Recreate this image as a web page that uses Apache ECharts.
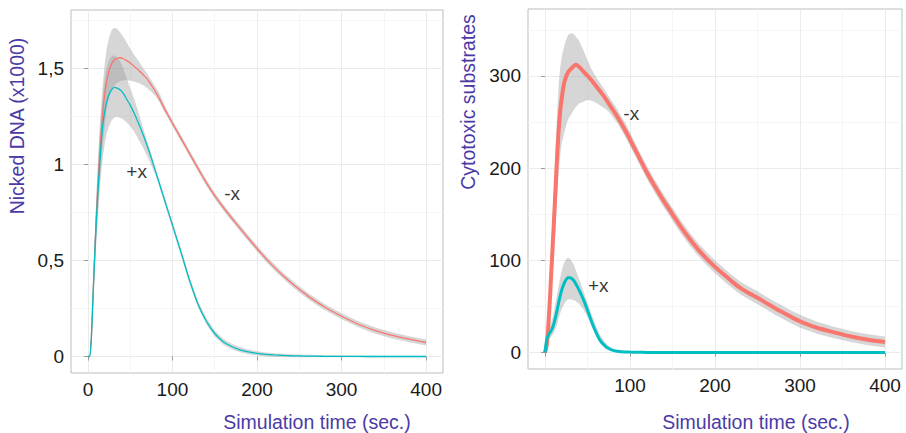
<!DOCTYPE html>
<html>
<head>
<meta charset="utf-8">
<script src="https://cdn.jsdelivr.net/npm/echarts@6/dist/echarts.min.js"></script>
<style>
  html, body { margin: 0; padding: 0; background: #fff; }
  #chart { width: 906px; height: 433px; }
</style>
</head>
<body>
<div id="chart"></div>
<script>
// ---- Nicked DNA panel (values in thousands) ----
const timeDNA = [0,2,4,6,8,10,12,14,16,18,20,22,25,28,31,34,38,42,46,50,55,60,65,70,75,80,85,90,95,100,
  110,120,130,140,150,160,170,180,190,200,210,220,230,240,250,260,270,280,290,300,320,340,360,380,400];

const dnaMinus = [0,0,0.09,0.31,0.53,0.73,0.90,1.05,1.18,1.29,1.37,1.43,1.49,1.525,1.545,1.553,1.557,1.552,1.542,1.53,
  1.512,1.492,1.47,1.447,1.415,1.38,1.34,1.297,1.256,1.216,
  1.138,1.06,0.982,0.906,0.838,0.778,0.722,0.668,0.615,0.563,0.513,0.467,0.425,0.386,0.35,0.316,0.286,0.258,0.233,0.21,
  0.168,0.135,0.11,0.09,0.073];
const dnaMinusHi = [0,0.004,0.11,0.36,0.61,0.84,1.04,1.2,1.33,1.44,1.53,1.6,1.66,1.70,1.713,1.71,1.69,1.665,1.635,1.605,
  1.57,1.54,1.505,1.475,1.44,1.405,1.37,1.317,1.272,1.232,
  1.154,1.076,0.998,0.922,0.854,0.794,0.738,0.684,0.631,0.579,0.529,0.483,0.441,0.402,0.366,0.332,0.302,0.274,0.249,0.226,
  0.184,0.151,0.126,0.106,0.089];
const dnaMinusLo = [0,0,0.07,0.26,0.45,0.62,0.77,0.90,1.02,1.12,1.21,1.28,1.35,1.39,1.41,1.425,1.435,1.44,1.44,1.438,
  1.432,1.425,1.415,1.40,1.38,1.355,1.322,1.277,1.24,1.2,
  1.122,1.044,0.966,0.89,0.822,0.762,0.706,0.652,0.599,0.547,0.497,0.451,0.409,0.37,0.334,0.3,0.27,0.242,0.217,0.194,
  0.152,0.119,0.094,0.074,0.057];

const dnaPlus = [0,0,0.09,0.31,0.52,0.71,0.87,1.01,1.13,1.22,1.28,1.325,1.365,1.39,1.403,1.40,1.39,1.37,1.34,1.31,
  1.265,1.215,1.16,1.10,1.035,0.965,0.895,0.825,0.755,0.685,
  0.545,0.40,0.275,0.185,0.12,0.077,0.052,0.035,0.024,0.016,0.011,0.008,0.006,0.004,0.003,0.002,0.0015,0.001,0.001,0.0005,
  0.0003,0,0,0,0];
const dnaPlusHi = [0,0.004,0.11,0.36,0.6,0.82,1.0,1.15,1.28,1.38,1.45,1.50,1.545,1.565,1.57,1.56,1.54,1.50,1.45,1.40,
  1.34,1.27,1.195,1.125,1.054,0.982,0.912,0.842,0.772,0.702,
  0.562,0.417,0.292,0.202,0.136,0.092,0.066,0.048,0.036,0.027,0.021,0.017,0.014,0.012,0.01,0.009,0.008,0.007,0.007,0.006,
  0.005,0.004,0.004,0.004,0.004];
const dnaPlusLo = [0,0,0.07,0.26,0.45,0.6,0.74,0.87,0.97,1.05,1.11,1.16,1.2,1.23,1.245,1.25,1.245,1.235,1.22,1.2,
  1.17,1.13,1.09,1.045,0.995,0.945,0.878,0.808,0.738,0.668,
  0.528,0.383,0.258,0.168,0.104,0.062,0.038,0.022,0.012,0.005,0.001,-0.002,-0.003,-0.004,-0.004,-0.004,-0.004,-0.004,-0.004,-0.004,
  -0.004,-0.004,-0.004,-0.004,-0.004];

// ---- Cytotoxic substrates panel ----
const timeSub = [0,2,4,6,8,10,12,14,16,18,20,22,24,26,28,30,33,36,40,45,50,55,60,65,70,75,80,85,90,95,100,
  110,120,130,140,150,160,170,180,190,200,210,220,230,240,250,260,270,280,290,300,320,340,360,380,400];

const subMinus = [0,8,30,62,98,133,170,208,240,263,278,290,297,302,305,307,310,312,310,305,300,295,289,283,277,270,263,256,248,240,231,
  213,195,179,164,150,136,123.5,112,102,93,85,77,70,64.5,59.5,54,48.5,43.5,38.5,34,27,22,17.5,14,11.5];
const subMinusHi = [0,12,40,80,125,170,210,255,290,310,322,330,337,342,345,346,346,343,338,328,317,307,299,292,285,278,271,264,256,248,239,
  220,202,186,171,157,143,130.5,119,109,100,92,84,77,71.5,66.5,61,55.5,50.5,45.5,41,33.5,28,23.5,20,17.5];
const subMinusLo = [0,4,20,45,72,100,130,165,195,215,228,236,243,250,254,257,262,266,270,272,274,273,271,268,265,261,255,249,241,233,224,
  206,188,172,157,143,129,116.5,105,95,86,78,70,63,57.5,52.5,47,41.5,36.5,31.5,27,20.5,15.5,11.5,8,5.5];

const subPlus = [0,14,19,22,25,30,37,45,54,62,69,74,78,80.5,81.5,81,79,75,68,58,46,33,22,13,8,4.5,2.5,1.5,1,0.8,0.6,
  0.4,0.3,0.2,0.2,0.1,0.1,0.1,0.1,0.1,0.1,0.1,0.1,0.1,0.1,0.1,0.1,0.1,0.1,0.1,0.1,0.1,0.1,0.1,0.1,0.1];
const subPlusHi = [0,18,24,29,35,42,52,62,72,82,90,96,100,102.5,103,101,97,90,80,67,54,41,29,19,12,7,4.5,3,2.2,1.8,1.5,
  1.2,1,1,1,1,1,1,1,1,1,1,1,1,1,1,1,1,1,1,1,1,1,1,1,1];
const subPlusLo = [0,10,14,16,18,21,25,30,37,43,48,52,55,57,58,58,57,56,53,47,39,29,19,10,5,2.5,1,0.3,0,0,0,
  0,0,0,0,0,0,0,0,0,0,0,0,0,0,0,0,0,0,0,0,0,0,0,0,0];

// ---- axis ticks and annotations ----
const dnaTicksX = [0, 100, 200, 300, 400];
const dnaMinorX = [50, 150, 250, 350];
const dnaTicksY = [0, 0.5, 1, 1.5];
const dnaMinorY = [0.25, 0.75, 1.25, 1.75];
const subTicksX = [0, 100, 200, 300, 400];
const subLabelsX = [100, 200, 300, 400];
const subMinorX = [50, 150, 250, 350];
const subTicksY = [0, 100, 200, 300];
const subMinorY = [50, 150, 250, 350];

const dnaNotes = [{ name: '+x', value: [57.6, 0.966] }, { name: '-x', value: [170.6, 0.847] }];
const subNotes = [{ name: '-x', value: [101.5, 259] }, { name: '+x', value: [62.7, 72.3] }];

// ---- styling ----
const FONT = '"Liberation Sans", Arial, Helvetica, sans-serif';
const TITLE_COLOR = '#4b3aa6';
const RED = '#F8766D';
const TEAL = '#00BFC4';
const BAND = 'rgba(153,153,153,0.4)';

const chart = echarts.init(document.getElementById('chart'), null, { renderer: 'svg' });

function pairs(ts, vs) { return ts.map((t, i) => [t, vs[i]]); }

// grey confidence band: polygon along the upper edge and back along the lower edge
function band(ts, hi, lo, axisIdx) {
  return {
    type: 'custom', xAxisIndex: axisIdx, yAxisIndex: axisIdx, silent: true, z: 1,
    data: [[ts[0], lo[0]]],
    renderItem: function (params, api) {
      const pts = [];
      for (let i = 0; i < ts.length; i++) pts.push(api.coord([ts[i], hi[i]]));
      for (let i = ts.length - 1; i >= 0; i--) pts.push(api.coord([ts[i], lo[i]]));
      return { type: 'polygon', shape: { points: pts }, style: { fill: BAND } };
    }
  };
}

function line(ts, vs, color, width, axisIdx) {
  return {
    type: 'line', xAxisIndex: axisIdx, yAxisIndex: axisIdx, data: pairs(ts, vs),
    showSymbol: false, symbol: 'none', smooth: 0.25, z: 3, silent: true,
    lineStyle: { color: color, width: width }
  };
}

function notes(items, axisIdx) {
  return {
    type: 'scatter', xAxisIndex: axisIdx, yAxisIndex: axisIdx, data: items, symbolSize: 1, z: 4, silent: true,
    itemStyle: { color: 'transparent' },
    label: { show: true, position: 'inside', formatter: '{b}', fontFamily: FONT, fontSize: 19, color: '#000' }
  };
}

function mainX(grid, min, max, ticks, labels) {
  return {
    type: 'value', gridIndex: grid, min: min, max: max, position: 'bottom',
    axisLine: { show: false },
    axisTick: { show: true, length: 4, customValues: ticks, lineStyle: { color: '#9a9a9a' } },
    axisLabel: { customValues: labels, margin: 7, fontFamily: FONT, fontSize: 19, color: '#1a1a1a' },
    splitLine: { show: true, lineStyle: { color: '#ebebeb', width: 1 } }
  };
}
function minorAxis(grid, min, max, vals, pos) {
  return {
    type: 'value', gridIndex: grid, min: min, max: max, position: pos,
    axisLine: { show: false },
    axisTick: { show: false, customValues: vals },
    axisLabel: { show: false, customValues: vals },
    splitLine: { show: true, lineStyle: { color: '#f5f5f5', width: 1 } }
  };
}
function mainY(grid, min, max, ticks, fmt) {
  return {
    type: 'value', gridIndex: grid, min: min, max: max, position: 'left',
    axisLine: { show: false },
    axisTick: { show: true, length: 4, customValues: ticks, lineStyle: { color: '#9a9a9a' } },
    axisLabel: { customValues: ticks, margin: 7, fontFamily: FONT, fontSize: 19, color: '#1a1a1a', formatter: fmt },
    splitLine: { show: true, lineStyle: { color: '#ebebeb', width: 1 } }
  };
}

const option = {
  animation: false,
  backgroundColor: '#fff',
  grid: [
    { left: 71, top: 10, width: 372, height: 363, show: true, borderColor: '#bdbdbd', borderWidth: 1, backgroundColor: '#fff' },
    { left: 528, top: 9, width: 374, height: 360, show: true, borderColor: '#bdbdbd', borderWidth: 1, backgroundColor: '#fff' }
  ],
  xAxis: [
    mainX(0, -20, 420, dnaTicksX, dnaTicksX),
    mainX(1, -20, 420, subTicksX, subLabelsX),
    minorAxis(0, -20, 420, dnaMinorX, 'top'),
    minorAxis(1, -20, 420, subMinorX, 'top')
  ],
  yAxis: [
    mainY(0, -0.086, 1.806, dnaTicksY, v => String(v).replace('.', ',')),
    mainY(1, -17.7, 372.5, subTicksY, v => String(v)),
    minorAxis(0, -0.086, 1.806, dnaMinorY, 'right'),
    minorAxis(1, -17.7, 372.5, subMinorY, 'right')
  ],
  graphic: [
    { type: 'text', x: 317, y: 422, style: { text: 'Simulation time (sec.)', textAlign: 'center', textVerticalAlign: 'middle', font: '19.5px ' + FONT, fill: TITLE_COLOR } },
    { type: 'text', x: 756, y: 422, style: { text: 'Simulation time (sec.)', textAlign: 'center', textVerticalAlign: 'middle', font: '19.5px ' + FONT, fill: TITLE_COLOR } },
    { type: 'text', x: 17, y: 126, rotation: Math.PI / 2, style: { text: 'Nicked DNA (x1000)', textAlign: 'center', textVerticalAlign: 'middle', font: '19.5px ' + FONT, fill: TITLE_COLOR } },
    { type: 'text', x: 468, y: 102, rotation: Math.PI / 2, style: { text: 'Cytotoxic substrates', textAlign: 'center', textVerticalAlign: 'middle', font: '19.5px ' + FONT, fill: TITLE_COLOR } }
  ],
  series: [
    band(timeDNA, dnaMinusHi, dnaMinusLo, 0),
    band(timeDNA, dnaPlusHi, dnaPlusLo, 0),
    line(timeDNA, dnaMinus, RED, 1.3, 0),
    line(timeDNA, dnaPlus, TEAL, 1.3, 0),
    notes(dnaNotes, 0),
    band(timeSub, subMinusHi, subMinusLo, 1),
    band(timeSub, subPlusHi, subPlusLo, 1),
    line(timeSub, subMinus, RED, 4, 1),
    line(timeSub, subPlus, TEAL, 3, 1),
    notes(subNotes, 1)
  ]
};

chart.setOption(option);
</script>
</body>
</html>
